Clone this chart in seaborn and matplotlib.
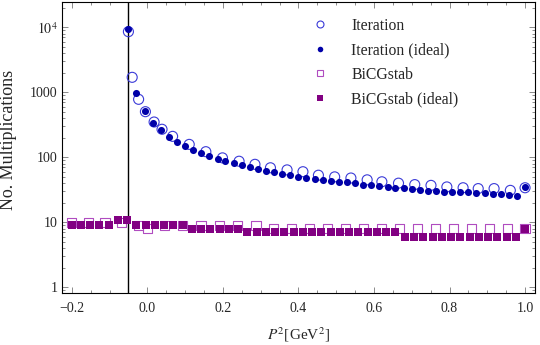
import numpy as np
import pandas as pd
import seaborn as sns
import matplotlib.pyplot as plt
from matplotlib.lines import Line2D
from matplotlib.ticker import FixedLocator, FixedFormatter, LogLocator, MultipleLocator, NullFormatter

sns.set_style("ticks")
plt.rcParams['font.family'] = ['Liberation Serif', 'DejaVu Serif']
plt.rcParams['mathtext.fontset'] = 'stix'

# Iteration (open circles)
iter_x = [-0.050, -0.040, -0.023, -0.005, 0.018, 0.039, 0.067, 0.111, 0.155, 0.199,
          0.243, 0.285, 0.326, 0.370, 0.412, 0.453, 0.496, 0.539, 0.582, 0.621,
          0.665, 0.708, 0.751, 0.793, 0.836, 0.876, 0.918, 0.961, 1.000]
iter_y = [8560, 1700, 780, 503, 349, 270, 210, 158, 122, 98,
          87, 78, 69, 64, 60, 53, 50, 48, 45, 42,
          40, 38, 37, 35, 34, 33, 33, 31, 34]

# Iteration (ideal) (filled circles)
ideal_x = [-0.050, -0.029, -0.007, 0.014, 0.036, 0.057, 0.079, 0.100, 0.121, 0.143,
           0.164, 0.186, 0.207, 0.229, 0.250, 0.271, 0.293, 0.314, 0.336, 0.357,
           0.379, 0.400, 0.421, 0.443, 0.464, 0.486, 0.507, 0.529, 0.550, 0.571,
           0.593, 0.614, 0.636, 0.657, 0.679, 0.700, 0.721, 0.743, 0.764, 0.786,
           0.807, 0.829, 0.850, 0.871, 0.893, 0.914, 0.936, 0.957, 0.979, 1.000]
ideal_y = [9300, 986, 515, 341, 263, 208, 174, 149, 130, 115,
           105, 95, 88, 82, 75, 70, 66, 62, 59, 55,
           53, 50, 48, 47, 45, 43, 42, 41, 40, 38,
           37, 36, 35, 34, 34, 32, 31, 30, 30, 29,
           29, 29, 29, 28, 28, 27, 27, 26, 25, 35]

# BiCGstab (open squares)
bicg_x = [-0.200, -0.156, -0.112, -0.068, -0.023, 0.000, 0.045, 0.094, 0.142, 0.191,
          0.239, 0.288, 0.334, 0.382, 0.429, 0.477, 0.525, 0.572, 0.621, 0.667,
          0.716, 0.763, 0.811, 0.859, 0.906, 0.954, 1.000]
bicg_y = [10, 10, 10, 10, 9, 8, 9, 9, 9, 9,
          9, 9, 8, 8, 8, 8, 8, 8, 8, 8,
          8, 8, 8, 8, 8, 8, 8]

# BiCGstab (ideal) (filled squares)
bicgi_x = [-0.200, -0.176, -0.151, -0.127, -0.102, -0.078, -0.053, -0.029, -0.004, 0.020,
           0.045, 0.069, 0.094, 0.118, 0.143, 0.167, 0.192, 0.216, 0.241, 0.265,
           0.290, 0.314, 0.339, 0.363, 0.388, 0.412, 0.437, 0.461, 0.486, 0.510,
           0.535, 0.559, 0.584, 0.608, 0.633, 0.657, 0.682, 0.706, 0.731, 0.755,
           0.780, 0.804, 0.829, 0.853, 0.878, 0.902, 0.927, 0.951, 0.976, 1.000]
bicgi_y = [9, 9, 9, 9, 9, 11, 11, 9, 9, 9,
           9, 9, 9, 8, 8, 8, 8, 8, 8, 7,
           7, 7, 7, 7, 7, 7, 7, 7, 7, 7,
           7, 7, 7, 7, 7, 7, 6, 6, 6, 6,
           6, 6, 6, 6, 6, 6, 6, 6, 6, 8]

threshold = -0.05

blue_open = '#3a3ad8'
blue_fill = '#0000a8'
purple_open = '#b04cc0'
purple_fill = '#820082'

fig = plt.figure(figsize=(5.4, 3.45), dpi=100)
ax = fig.add_axes([62.3 / 540, 1 - 293 / 345, (534.5 - 62.3) / 540, 291 / 345])

ax.axvline(threshold, color='black', lw=1.0, zorder=1)

sns.scatterplot(x=iter_x, y=iter_y, ax=ax, marker='o', s=52, facecolor='none',
                edgecolor=blue_open, linewidth=0.8, zorder=3)
sns.scatterplot(x=ideal_x, y=ideal_y, ax=ax, marker='o', s=26, color=blue_fill,
                edgecolor=blue_fill, linewidth=0, zorder=4)
sns.scatterplot(x=bicg_x, y=bicg_y, ax=ax, marker='s', s=44, facecolor='none',
                edgecolor=purple_open, linewidth=0.8, zorder=3)
sns.scatterplot(x=bicgi_x, y=bicgi_y, ax=ax, marker='s', s=26, color=purple_fill,
                edgecolor=purple_fill, linewidth=0, zorder=4)

ax.set_yscale('log')
ax.set_xlim(-0.225, 1.025)
ax.set_ylim(0.817, 24500)

ax.xaxis.set_major_locator(FixedLocator([-0.2, 0.0, 0.2, 0.4, 0.6, 0.8, 1.0]))
ax.xaxis.set_major_formatter(FixedFormatter(['\u22120.2', '0.0', '0.2', '0.4', '0.6', '0.8', '1.0']))
ax.xaxis.set_minor_locator(MultipleLocator(0.05))
ax.yaxis.set_major_locator(FixedLocator([1, 10, 100, 1000, 10000]))
ax.yaxis.set_major_formatter(FixedFormatter(['1', '10', '100', '1000', r'$10^4$']))
ax.yaxis.set_minor_locator(LogLocator(base=10, subs=np.arange(2, 10)))
ax.yaxis.set_minor_formatter(NullFormatter())

ax.tick_params(which='both', direction='in', top=True, right=True, color='#777777',
               labelsize=10, width=0.6)
ax.tick_params(which='major', length=4)
ax.tick_params(axis='x', which='major', pad=6.2)
ax.tick_params(which='minor', length=2)
for s in ax.spines.values():
    s.set_linewidth(0.8)
    s.set_color('black')

ax.set_xlabel(r'$P^2$[GeV$^2$]', fontsize=11)
ax.set_ylabel('No. Multiplications', fontsize=13)
ax.xaxis.set_label_coords(0.5, -0.112)
ax.yaxis.set_label_coords(-0.095, 0.526)

handles = [
    Line2D([], [], ls='none', marker='o', ms=5, mfc='none', mec=blue_open, mew=0.8),
    Line2D([], [], ls='none', marker='o', ms=4, mfc=blue_fill, mec=blue_fill, mew=0),
    Line2D([], [], ls='none', marker='s', ms=5, mfc='none', mec=purple_open, mew=0.8),
    Line2D([], [], ls='none', marker='s', ms=4, mfc=purple_fill, mec=purple_fill, mew=0),
]
labels = ['Iteration', 'Iteration (ideal)', 'BiCGstab', 'BiCGstab (ideal)']
ax.legend(handles, labels, loc='upper left', bbox_to_anchor=(0.512, 0.946),
          frameon=False, fontsize=11.3, borderpad=0, borderaxespad=0,
          handlelength=2.0, handletextpad=1.0, labelspacing=0.55)

fig.savefig('out.png', dpi=100)
